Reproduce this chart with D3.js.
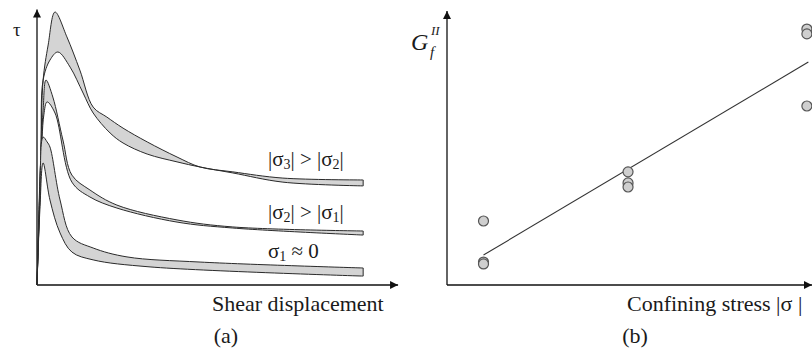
<!DOCTYPE html>
<html>
<head>
	<title></title>
	<style type="text/css">
		body{
			margin: 0;
			background-color: white;
		}
		#container text{
			font-family: "Liberation Serif", "DejaVu Serif", serif;
			fill: #1a1a1a;
		}
	</style>
</head>
<body>
	<svg id="container" width="812" height="350" font-family="Liberation Serif, serif"></svg>
</body>

<script src="https://d3js.org/d3.v7.min.js"></script>
<script type="text/javascript">
	// (a) shear stress vs shear displacement, each band = upper and lower curve
	let band3Upper = [[0,0],[0.11,5.0],[0.17,7.59],[0.31,8.89],[0.5,10.11],[0.83,9.19],[1.19,7.96],[1.56,6.59],[1.94,6.22],[2.39,5.81],[3.06,5.30],[3.89,4.74],[4.53,4.37],[5.44,4.19],[6.83,3.96],[9.06,3.89]]
	let band3Lower = [[0,0],[0.11,5.0],[0.17,7.59],[0.36,8.33],[0.58,8.63],[0.92,8.07],[1.28,7.11],[1.56,6.37],[2.03,5.63],[2.39,5.26],[3.06,4.85],[3.89,4.56],[4.53,4.37],[5.44,4.15],[6.83,3.81],[9.06,3.67]]
	let band2Upper = [[0,0],[0.08,3.89],[0.17,6.48],[0.25,7.59],[0.44,6.96],[0.72,5.37],[0.97,4.07],[1.47,3.52],[2.22,2.96],[3.89,2.41],[5.44,2.15],[9.06,2.0]]
	let band2Lower = [[0,0],[0.11,4.26],[0.19,6.30],[0.28,6.78],[0.5,6.37],[0.97,3.81],[1.47,3.26],[2.22,2.85],[3.89,2.33],[5.44,2.11],[9.06,1.85]]
	let band1Upper = [[0,0],[0.08,3.15],[0.17,5.48],[0.28,5.30],[0.36,5.11],[0.64,3.15],[0.97,1.78],[1.56,1.37],[2.5,1.04],[4.53,0.85],[9.06,0.63]]
	let band1Lower = [[0,0],[0.08,2.78],[0.17,4.52],[0.36,3.15],[0.64,1.93],[0.97,1.22],[1.56,0.93],[3.14,0.67],[9.06,0.33]]

	// (b) fracture energy vs confining stress
	let stressX = [1, 1, 1, 4.96, 4.96, 4.96, 9.86, 9.86, 9.86]
	let energyY = [2.37, 0.85, 0.78, 4.19, 3.78, 3.63, 9.48, 9.30, 6.63]
	let fitX = [1, 9.9]
	let fitY = [1.11, 8.26]

	let container = d3.select("#container")
	let serif = "'Liberation Serif', 'DejaVu Serif', serif"

	let xA = d3.scaleLinear().domain([0, 10]).range([37, 397])
	let yA = d3.scaleLinear().domain([0, 10]).range([285, 15])
	let xB = d3.scaleLinear().domain([0, 10]).range([447, 812])
	let yB = d3.scaleLinear().domain([0, 10]).range([285, 15])

	container.append("defs").append("marker")
		.attr("id", "arrow")
		.attr("viewBox", "0 0 10 10")
		.attr("refX", 10).attr("refY", 5)
		.attr("markerUnits", "userSpaceOnUse")
		.attr("markerWidth", 10).attr("markerHeight", 8)
		.attr("orient", "auto")
		.append("path").attr("d", "M0,0L10,5L0,10Z").attr("fill", "#111")

	function axisLine(x1, y1, x2, y2){
		container.append("line")
			.attr("x1", x1).attr("y1", y1).attr("x2", x2).attr("y2", y2)
			.attr("stroke", "#111").attr("stroke-width", 1.3)
			.attr("marker-end", "url(#arrow)")
	}

	axisLine(xA(0), yA(0), xA(0), yA(10.2))
	axisLine(xA(0), yA(0), xA(10.03), yA(0))
	axisLine(xB(0), yB(0), xB(0), yB(10.15))
	axisLine(xB(0), yB(0), xB(10), yB(0))

	// bands
	let line = d3.line().x(d => xA(d[0])).y(d => yA(d[1])).curve(d3.curveCatmullRom.alpha(0.5))
	let bands = [[band3Upper, band3Lower], [band2Upper, band2Lower], [band1Upper, band1Lower]]
	bands.forEach(b => {
		let p = line(b[0]) + "L" + line(b[1].slice().reverse()).slice(1) + "Z"
		container.append("path")
			.attr("d", p)
			.attr("fill", "#d4d4d4")
			.attr("stroke", "#2a2a2a")
			.attr("stroke-width", 1)
			.attr("stroke-linejoin", "round")
	})

	function label(txt, x, y, size){
		return container.append("text").text(txt)
			.attr("x", x).attr("y", y)
			.style("font-family", serif)
			.style("font-size", size + "px")
	}

	// labels (a)
	label("τ", 13, 36, 19)

	function sigmaLabel(x, y, parts){
		let t = label("", x, y, 21)
		parts.forEach(p => {
			t.append("tspan").text(p[0])
				.style("font-size", p[1] ? "14px" : "21px")
				.attr("dy", p[1] ? 3 : (p[2] ? -3 : 0))
		})
	}
	sigmaLabel(268, 166, [["|σ"], ["3", 1], ["| > |σ", 0, 1], ["2", 1], ["|", 0, 1]])
	sigmaLabel(268, 219, [["|σ"], ["2", 1], ["| > |σ", 0, 1], ["1", 1], ["|", 0, 1]])
	sigmaLabel(268, 258, [["σ"], ["1", 1], [" ≈ 0", 0, 1]])

	label("Shear displacement", 212, 311, 22)
	label("(a)", 226, 343, 22).attr("text-anchor", "middle")

	// (b) fit line and points
	container.append("line")
		.attr("x1", xB(fitX[0])).attr("y1", yB(fitY[0]))
		.attr("x2", xB(fitX[1])).attr("y2", yB(fitY[1]))
		.attr("stroke", "#333").attr("stroke-width", 1.1)

	container.selectAll("circle.pt")
		.data(stressX.map((x, i) => [x, energyY[i]]))
		.enter()
		.append("circle")
		.attr("class", "pt")
		.attr("cx", d => xB(d[0]))
		.attr("cy", d => yB(d[1]))
		.attr("r", 5)
		.attr("fill", "#cfcfcf")
		.attr("stroke", "#555")
		.attr("stroke-width", 1.2)

	let g = label("", 411, 50, 24).style("font-style", "italic")
	g.append("tspan").text("G")
	g.append("tspan").text("f").style("font-size", "15px").attr("x", 430).attr("y", 57)
	g.append("tspan").text("II").style("font-size", "13px").attr("x", 431).attr("y", 35)

	label("Confining stress |σ |", 627, 311, 22)
	label("(b)", 635, 343, 22).attr("text-anchor", "middle")
</script>
</html>
